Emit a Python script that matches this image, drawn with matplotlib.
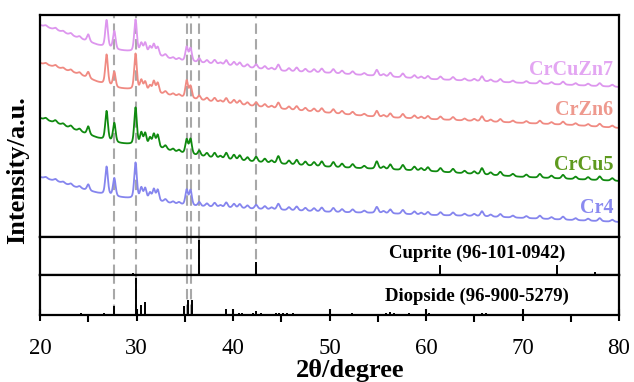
import numpy as np
import matplotlib
matplotlib.use("Agg")
import matplotlib.pyplot as plt

# ---------------- data ----------------
# baseline knots (2theta) and baseline intensity of each pattern (a.u., stacked)
knots = [20, 22, 24, 26, 28, 30, 32, 34, 36, 38, 40, 45, 50, 55, 60, 65, 70, 75, 80]
base_CrCuZn7 = [212, 206, 199, 192, 187, 185, 182, 177, 175, 173, 171, 166, 164, 161, 158, 156, 154, 152, 150]
base_CrZn6 = [174, 169, 163, 155, 149, 147, 144, 141, 138, 135, 133, 128, 124, 120, 118, 116, 114, 112, 109]
base_CrCu5 = [119, 113, 106, 99, 94, 92, 90, 85, 82, 79, 77, 73, 70, 68, 66, 63, 60, 58, 56]
base_Cr4 = [60, 55, 49, 44, 40, 38, 36, 33, 31, 30, 29, 27, 25, 24, 22, 21, 19, 17, 15]

# main diffraction peaks (2theta) and their heights above baseline
peak_pos = [25.0, 26.9, 27.7, 29.9, 30.5, 30.9, 31.4, 31.8, 32.2, 35.2, 35.6, 36.5]
peak_CrCuZn7 = [7, 27, 18, 32, 9, 10, 7, 10, 8, 14, 13, 4]
peak_CrZn6 = [6, 30, 15, 36, 10, 9, 6, 11, 10, 17, 12, 4]
peak_CrCu5 = [8, 29, 19, 37, 12, 12, 8, 12, 12, 14, 15, 5]
peak_Cr4 = [6, 28, 18, 36, 11, 11, 7, 11, 11, 15, 15, 4]

# minor bumps shared by all patterns
minor_pos = [20.6, 21.6, 22.4, 23.2, 24.1, 33.0, 33.8, 34.4, 37.3, 38.1, 38.7, 39.3, 40.1,
             40.7, 41.5, 42.4, 43.3, 44.0, 44.7, 45.8, 46.6, 47.5, 48.4, 49.2, 50.4, 51.3,
             52.4, 53.6, 54.9, 55.6, 56.3, 57.6, 58.8, 59.5, 60.2, 61.5, 62.8, 64.0, 65.0,
             65.8, 66.7, 67.7, 69.0, 70.4, 71.8, 73.0, 74.2, 75.5, 76.8, 78.0, 79.3]
minor_h = [1.5, 2, 1.5, 2, 2, 3, 2, 2, 3, 4, 2, 5, 4,
           4, 3, 4, 3, 2, 6, 3, 4, 3, 3, 4, 4, 3,
           3, 2, 6, 2, 4, 4, 3, 2, 3, 3, 3, 2, 2,
           5, 2, 3, 2, 2, 3, 2, 3, 2, 2, 3, 2]

samples = ["CrCuZn7", "CrZn6", "CrCu5", "Cr4"]
label_y = [167, 127, 72, 29]

# reference patterns
cuprite_pos = [29.6, 36.5, 42.4, 52.5, 61.5, 73.6, 77.5]
cuprite_int = [4, 92, 34, 2, 26, 26, 7]

diopside_pos = [24.3, 26.6, 27.7, 29.9, 30.5, 30.9, 31.6, 34.9, 35.3, 35.7, 37.5, 38.3, 39.3,
                40.6, 40.9, 41.3, 42.1, 42.4, 42.9, 44.0, 44.5, 44.8, 45.2, 45.6, 46.2, 47.6,
                48.5, 49.5, 49.9, 50.9, 52.3, 53.6, 54.9, 55.9, 56.3, 56.7, 57.6, 58.2, 58.6,
                59.5, 60.3, 61.0, 61.6, 62.5, 63.2, 64.8, 65.8, 66.2, 66.9, 67.6, 69.0, 69.5,
                71.1, 72.3, 73.2, 74.6, 75.6, 76.5, 77.4, 78.6, 79.3]
diopside_int = [4, 6, 22, 93, 25, 33, 3, 22, 38, 38, 2, 2, 15,
                6, 4, 3, 5, 9, 5, 2, 5, 6, 5, 4, 4, 2,
                2, 3, 3, 2, 4, 2, 3, 6, 8, 5, 3, 4, 3,
                3, 4, 3, 2, 3, 3, 3, 6, 4, 3, 2, 3, 2,
                2, 3, 2, 3, 2, 2, 3, 2, 3]

dash_diopside = [27.7, 29.9, 35.2, 35.6]
dash_cuprite = [36.5, 42.4]

# ---------------- styling ----------------
colors = ["#DD96EE", "#F08A82", "#108A10", "#8585EE"]
label_colors = ["#E3A6F2", "#EE998E", "#5E9A1E", "#8A8AF0"]
serif = ["Liberation Serif", "DejaVu Serif"]

base = {"CrCuZn7": base_CrCuZn7, "CrZn6": base_CrZn6, "CrCu5": base_CrCu5, "Cr4": base_Cr4}
peaks = {"CrCuZn7": peak_CrCuZn7, "CrZn6": peak_CrZn6, "CrCu5": peak_CrCu5, "Cr4": peak_Cr4}
minor_scale = {"CrCuZn7": 1.0, "CrZn6": 1.0, "CrCu5": 1.25, "Cr4": 1.0}

x = np.linspace(20, 80, 3001)


def profile(pos, h, hw, eta=0.35):
    out = np.zeros_like(x)
    for p, a in zip(pos, h):
        u = (x - p) / hw
        out += a * ((1 - eta) * np.exp(-np.log(2) * u ** 2) + eta / (1 + u ** 2))
    return out


fig = plt.figure(figsize=(6.34, 3.82), dpi=100)
L = 40 / 634
W = 579 / 634
ax = fig.add_axes([L, (382 - 237) / 382, W, 222 / 382])
ax_cu = fig.add_axes([L, (382 - 275) / 382, W, 38 / 382])
ax_di = fig.add_axes([L, (382 - 315) / 382, W, 40 / 382])

dash_style = dict(color="#A8A8A8", lw=1.5, ls=(0, (5, 2.5)), zorder=1)

for name, c in zip(samples, colors):
    y = np.interp(x, knots, base[name]) + profile(peak_pos, peaks[name], 0.16) \
        + minor_scale[name] * profile(minor_pos, minor_h, 0.18)
    ax.plot(x, y, color=c, lw=1.3, zorder=2)

for name, c, ly in zip(samples, label_colors, label_y):
    ax.text(79.4, ly, name, color=c, ha="right", va="center", fontsize=14.5,
            fontweight="bold", family=serif)

for d in dash_diopside + dash_cuprite:
    ax.axvline(d, **dash_style)
    ax_cu.axvline(d, **dash_style)
for d in dash_diopside:
    ax_di.axvline(d, **dash_style)

ax.set_ylim(0, 222)
ax_cu.vlines(cuprite_pos, 0, cuprite_int, color="black", lw=1.4, zorder=3)
ax_cu.set_ylim(0, 100)
ax_cu.text(65.3, 58, "Cuprite (96-101-0942)", ha="center", va="center", fontsize=13.5,
           fontweight="bold", family=serif)
ax_di.vlines(diopside_pos, 0, diopside_int, color="black", lw=1.4, zorder=3)
ax_di.set_ylim(0, 100)
ax_di.text(65.3, 47, "Diopside (96-900-5279)", ha="center", va="center", fontsize=13.5,
           fontweight="bold", family=serif)

for a in (ax, ax_cu, ax_di):
    a.set_xlim(20, 80)
    a.set_yticks([])
    for s in a.spines.values():
        s.set_linewidth(1.6)
    a.tick_params(axis="x", bottom=False, labelbottom=False)

ax_di.set_xticks([20, 30, 40, 50, 60, 70, 80])
ax_di.set_xticks([25, 35, 45, 55, 65, 75], minor=True)
ax_di.tick_params(axis="x", which="major", bottom=True, labelbottom=True, direction="inout",
                  length=9, width=1.5, pad=12, labelsize=16.5)
ax_di.tick_params(axis="x", which="minor", bottom=True, direction="out", length=5, width=1.5)
for t in ax_di.get_xticklabels():
    t.set_family(serif)

fig.text(0.552, 0.031, "2θ/degree", ha="center", va="center", fontsize=19,
         fontweight="bold", family=serif)
fig.text(0.028, 0.555, "Intensity/a.u.", ha="center", va="center", rotation=90,
         fontsize=19, fontweight="bold", family=serif)

fig.savefig("out.png", dpi=100)
